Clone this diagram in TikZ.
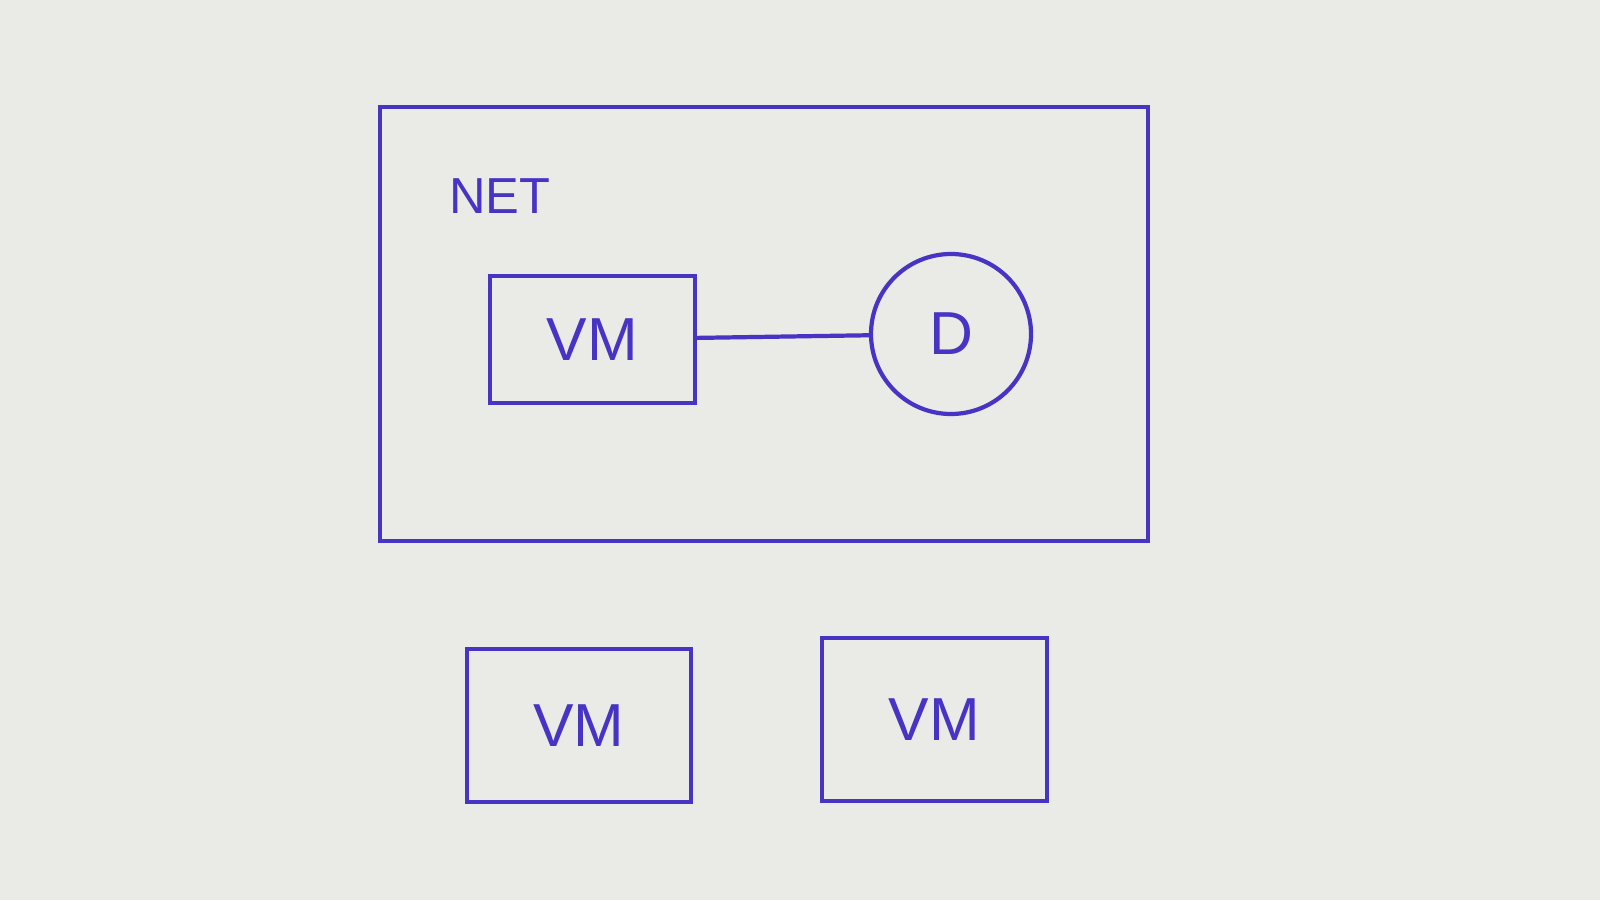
\documentclass[tikz,border=0pt]{standalone}
\usepackage{fontspec}
\setmainfont{Liberation Sans}
\usepackage{xcolor}
\definecolor{InkBlue}{RGB}{72,52,196}
\definecolor{PaperGray}{RGB}{234,234,230}
\usetikzlibrary{
  positioning,
  shapes.geometric
}
\tikzset{
  % Network boundary
  netbox/.style={
    rectangle,
    draw=InkBlue,
    line width=1.2pt,
    minimum width=7.68cm,
    minimum height=4.34cm,
    inner sep=0pt
  },
  % Virtual machine box
  vmbox/.style={
    rectangle,
    draw=InkBlue,
    line width=1.2pt,
    inner sep=0pt,
    text=InkBlue,
    font=\LARGE
  },
  % Disk
  dnode/.style={
    circle,
    draw=InkBlue,
    line width=1.2pt,
    minimum size=1.6cm,
    inner sep=0pt,
    text=InkBlue,
    font=\LARGE
  },
  % Standard edge
  edge/.style={
    draw=InkBlue,
    line width=1.2pt
  },
  % Box label
  glabel/.style={
    font=\Large,
    text=InkBlue
  }
}
\begin{document}
\begin{tikzpicture}
  \useasboundingbox (0,0) rectangle (16,9);
  \fill[PaperGray] (0,0) rectangle (16,9);

  % network with one VM and its disk
  \node[netbox] (net) at (7.64,5.76) {};
  \node[glabel] (netlabel) at (5.00,7.04) {NET};
  \node[vmbox, minimum width=2.05cm, minimum height=1.27cm] (vm1) at (5.925,5.605) {VM};
  \node[dnode] (disk) at (9.51,5.66) {D};
  \draw[edge] (vm1) -- (disk);

  % VMs outside the network
  \node[vmbox, minimum width=2.24cm, minimum height=1.53cm] (vm2) at (5.79,1.745) {VM};
  \node[vmbox, minimum width=2.25cm, minimum height=1.63cm] (vm3) at (9.345,1.805) {VM};
\end{tikzpicture}
\end{document}
